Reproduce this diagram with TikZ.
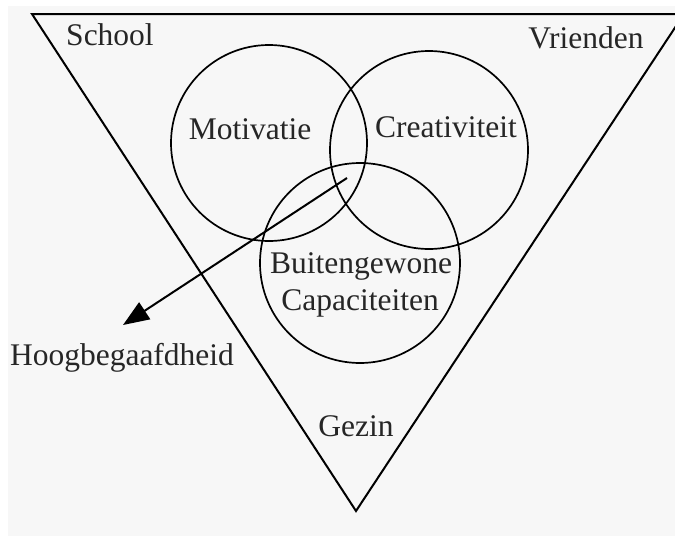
\documentclass[tikz,border=0pt]{standalone}
\usepackage{fontspec}
\setmainfont{Liberation Serif}
\usetikzlibrary{arrows.meta}
\definecolor{bg}{HTML}{F7F7F7}
\tikzset{
  lbl/.style={anchor=base, inner sep=0pt, font=\fontsize{31.5}{36}\selectfont, text=black!85},
  edge/.style={line width=2pt, line join=miter},
  ring/.style={line width=1.7pt},
}
\begin{document}
\begin{tikzpicture}[x=1pt,y=-1pt]
\useasboundingbox (0,0) rectangle (675,536);
\fill[white] (0,0) rectangle (675,536);
\fill[bg] (8,6) rectangle (675,536);
\begin{scope}
\clip (0,0) rectangle (675,536);
\draw[edge] (32,14) -- (684,14) -- (356,511) -- cycle;
\end{scope}
\draw[ring] (269,143) circle[radius=98];
\draw[ring] (429,150) circle[radius=99];
\draw[ring] (360,263) circle[radius=100];
\node[lbl] (school) at (110,45) {School};
\node[lbl] (vrienden) at (586,48) {Vrienden};
\node[lbl] (motivatie) at (250,139) {Motivatie};
\node[lbl] (creativiteit) at (446,137) {Creativiteit};
\node[lbl] (buiten) at (361,273) {Buitengewone};
\node[lbl] (capac) at (360,310) {Capaciteiten};
\node[lbl] (hoog) at (122,365) {Hoogbegaafdheid};
\node[lbl] (gezin) at (356,436) {Gezin};
\coordinate (astart) at (347,178);
\coordinate (aend) at (123,325);
\draw[line width=2pt, -{Triangle[length=26pt,width=20pt]}] (astart) -- (aend);
\end{tikzpicture}
\end{document}
